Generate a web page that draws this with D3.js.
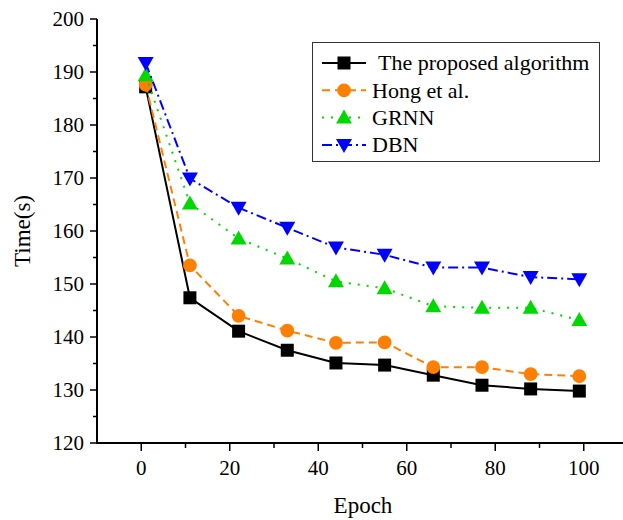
<!DOCTYPE html>
<html>
<head>
<meta charset="utf-8">
<script src="https://cdn.jsdelivr.net/npm/d3@7"></script>
<style>
  body { margin: 0; background: #fff; }
  svg text { font-family: "Liberation Serif", "Times New Roman", serif; fill: #000; }
</style>
</head>
<body>
<svg id="chart" width="623" height="520"></svg>
<script>
// data
var epochs = [1, 11, 22, 33, 44, 55, 66, 77, 88, 99];
var proposed = [187.2, 147.4, 141.1, 137.5, 135.1, 134.7, 132.8, 130.9, 130.2, 129.8];
var hong = [187.6, 153.5, 144.0, 141.2, 138.9, 139.0, 134.3, 134.3, 133.0, 132.6];
var grnn = [189.4, 165.2, 158.6, 154.8, 150.5, 149.2, 145.8, 145.5, 145.5, 143.2];
var dbn = [191.7, 169.9, 164.4, 160.6, 156.9, 155.5, 153.1, 153.1, 151.3, 150.9];
var seriesNames = ['The proposed algorithm', 'Hong et al.', 'GRNN', 'DBN'];
var xTicks = [0, 20, 40, 60, 80, 100];
var yTicks = [120, 130, 140, 150, 160, 170, 180, 190, 200];

var styles = [
  { color: '#000000', dash: null, marker: 'square' },
  { color: '#ff8000', dash: '8,5', marker: 'circle' },
  { color: '#00d800', dash: '2,7', marker: 'up' },
  { color: '#0000ff', dash: '10,4,2,4', marker: 'down' }
];
var allSeries = [proposed, hong, grnn, dbn];

var svg = d3.select('#chart');
var x = d3.scaleLinear().domain([-10, 110]).range([97, 628]);
var y = d3.scaleLinear().domain([120, 200]).range([443, 19]);

function markerPath(type) {
  if (type === 'square') return d3.symbol(d3.symbolSquare, 169)();
  if (type === 'circle') return d3.symbol(d3.symbolCircle, 150)();
  if (type === 'up') return 'M0,-8L8,6L-8,6Z';
  return 'M0,8L8,-6L-8,-6Z';
}

// axes
var xAxis = svg.append('g').attr('transform', 'translate(0,' + y(120) + ')');
xAxis.append('line').attr('x1', x(-10)).attr('x2', x(110)).attr('stroke', '#000').attr('stroke-width', 2);
xAxis.selectAll('line.tk').data(d3.range(0, 111, 10)).join('line')
  .attr('class', 'tk')
  .attr('x1', d => x(d)).attr('x2', d => x(d))
  .attr('y1', 0).attr('y2', d => d % 20 === 0 ? 8 : 5)
  .attr('stroke', '#000').attr('stroke-width', 1.5);
xAxis.selectAll('text').data(xTicks).join('text')
  .attr('x', d => x(d)).attr('y', 32)
  .attr('text-anchor', 'middle').attr('font-size', 21)
  .text(d => d);

var yAxis = svg.append('g').attr('transform', 'translate(' + x(-10) + ',0)');
yAxis.append('line').attr('y1', y(120) + 1).attr('y2', y(200)).attr('stroke', '#000').attr('stroke-width', 2);
yAxis.selectAll('line.tk').data(d3.range(120, 201, 5)).join('line')
  .attr('class', 'tk')
  .attr('y1', d => y(d)).attr('y2', d => y(d))
  .attr('x1', 0).attr('x2', d => d % 10 === 0 ? -7 : -4)
  .attr('stroke', '#000').attr('stroke-width', 1.5);
yAxis.selectAll('text').data(yTicks).join('text')
  .attr('x', -13).attr('y', d => y(d))
  .attr('dy', '0.34em')
  .attr('text-anchor', 'end').attr('font-size', 21)
  .text(d => d);

svg.append('text').attr('x', 363).attr('y', 513)
  .attr('text-anchor', 'middle').attr('font-size', 23).text('Epoch');
svg.append('text')
  .attr('transform', 'translate(30,' + ((y(120) + y(200)) / 2) + ') rotate(-90)')
  .attr('text-anchor', 'middle').attr('font-size', 23).text('Time(s)');

// series
var line = d3.line().x((d, i) => x(epochs[i])).y(d => y(d));
allSeries.forEach(function (vals, k) {
  var st = styles[k];
  var g = svg.append('g');
  g.append('path').datum(vals)
    .attr('d', line)
    .attr('fill', 'none')
    .attr('stroke', st.color)
    .attr('stroke-width', 2)
    .attr('stroke-dasharray', st.dash);
  g.selectAll('path.mk').data(vals).join('path')
    .attr('class', 'mk')
    .attr('d', markerPath(st.marker))
    .attr('transform', (d, i) => 'translate(' + x(epochs[i]) + ',' + y(d) + ')')
    .attr('fill', st.color);
});

// legend
var legend = svg.append('g');
legend.append('rect').attr('x', 312.5).attr('y', 42.5).attr('width', 287).attr('height', 119)
  .attr('fill', '#fff').attr('stroke', '#333').attr('stroke-width', 1);
seriesNames.forEach(function (name, k) {
  var st = styles[k];
  var cy = 63 + k * 27.3;
  legend.append('line').attr('x1', 322).attr('x2', 366).attr('y1', cy).attr('y2', cy)
    .attr('stroke', st.color).attr('stroke-width', 2)
    .attr('stroke-dasharray', st.dash);
  legend.append('path').attr('d', markerPath(st.marker))
    .attr('transform', 'translate(344,' + cy + ')')
    .attr('fill', st.color);
  legend.append('text').attr('x', k === 0 ? 378 : 372).attr('y', cy).attr('dy', '0.34em')
    .attr('font-size', 22).text(name);
});
</script>
</body>
</html>
